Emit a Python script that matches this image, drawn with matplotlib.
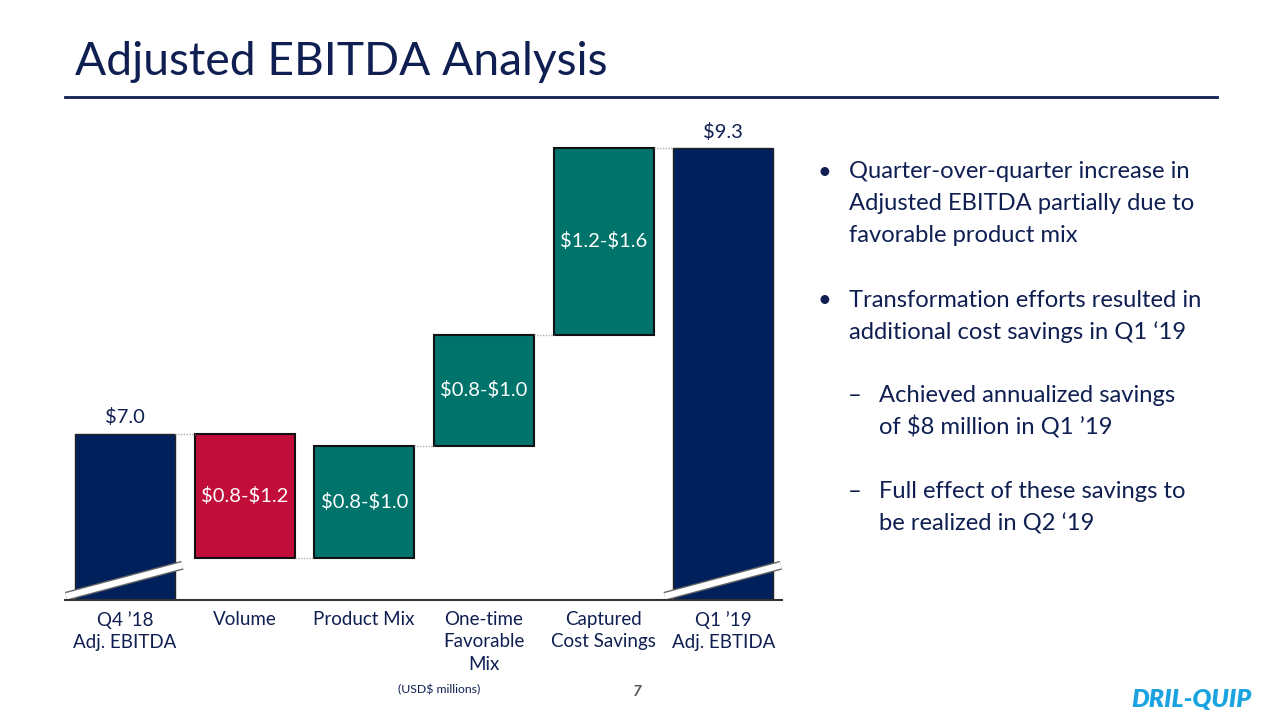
import matplotlib
matplotlib.use("Agg")
from matplotlib import pyplot as plt
import numpy as np

plt.rcParams["font.family"] = ["Lato", "DejaVu Sans"]

# waterfall data, USD$ millions (midpoints of the ranges shown)
categories = ["Q4 \u201918\nAdj. EBITDA", "Volume", "Product Mix",
              "One-time\nFavorable\nMix", "Captured\nCost Savings",
              "Q1 \u201919\nAdj. EBTIDA"]
start_value = 7.0
end_value = 9.3
changes = [-1.0, 0.9, 0.9, 1.5]
range_labels = [r"\$0.8-\$1.2", r"\$0.8-\$1.0", r"\$0.8-\$1.0", r"\$1.2-\$1.6"]
total_labels = [r"\$7.0", r"\$9.3"]

navy = "#00205B"
red = "#C00D3A"
teal = "#00746B"
text_navy = "#0F1F52"

fig = plt.figure(figsize=(12.8, 7.2), dpi=100)
ax = fig.add_axes([65 / 1280, 1 - 600 / 720, 717 / 1280, 490 / 720])

y0 = 5.66
x = np.arange(len(categories))
w = 0.836

levels = [start_value]
for c in changes:
    levels.append(levels[-1] + c)

# totals
ax.bar(x[0], start_value - y0, bottom=y0, width=w, color=navy, edgecolor="#222222", lw=1)
ax.bar(x[-1], end_value - y0, bottom=y0, width=w, color=navy, edgecolor="#222222", lw=1)

# changes
for i, c in enumerate(changes):
    lo = min(levels[i], levels[i + 1])
    col = red if c < 0 else teal
    ax.bar(x[i + 1], abs(c), bottom=lo, width=w, color=col, edgecolor="#111111", lw=1.5)
    ax.text(x[i + 1], lo + abs(c) / 2, range_labels[i], ha="center", va="center",
            color="white", fontsize=14.5)

# dotted connectors between neighbouring bars
for i in range(len(categories) - 1):
    yv = levels[i]
    ax.plot([x[i] + w / 2, x[i + 1] - w / 2], [yv, yv], color="#B0B0B0", lw=1,
            ls=(0, (1, 1)))

ax.text(x[0], start_value + 0.06, total_labels[0], ha="center", va="bottom",
        color=text_navy, fontsize=14.5)
ax.text(x[-1], end_value + 0.06, total_labels[1], ha="center", va="bottom",
        color=text_navy, fontsize=14.5)

# axis break marks
for xc in [x[0], x[-1]]:
    bx = [xc - 0.49, xc + 0.48]
    by = [y0 + 0.03, y0 + 0.28]
    ax.plot(bx, by, color="#666666", lw=6.5, solid_capstyle="butt", clip_on=False)
    ax.plot(bx, by, color="white", lw=4.5, solid_capstyle="butt", clip_on=False)

ax.set_xlim(-0.5, 5.49)
ax.set_ylim(y0, 9.61)
ax.set_xticks(x)
ax.set_xticklabels(categories, color=text_navy, fontsize=13.5, linespacing=1.38)
ax.tick_params(axis="x", length=0, pad=8)
ax.set_yticks([])
for s in ["top", "right", "left"]:
    ax.spines[s].set_visible(False)
ax.spines["bottom"].set_color("#333333")
ax.spines["bottom"].set_linewidth(1.5)

# title and rule
fig.text(75 / 1280, 1 - 62 / 720, "Adjusted EBITDA Analysis", fontsize=33.2,
         color=text_navy, va="center", ha="left")
fig.add_artist(plt.Line2D([65 / 1280, 1217 / 1280], [1 - 97 / 720] * 2,
                          color=text_navy, lw=2))

# bullet text
bullets = [
    (818, 849, [172, 204, 236], "\u2022",
     ["Quarter-over-quarter increase in", "Adjusted EBITDA partially due to",
      "favorable product mix"]),
    (818, 849, [300, 332], "\u2022",
     ["Transformation efforts resulted in", "additional cost savings in Q1 \u201819"]),
    (848, 879, [395, 427], "\u2013",
     ["Achieved annualized savings", "of \\$8 million in Q1 \u201919"]),
    (848, 879, [492, 524], "\u2013",
     ["Full effect of these savings to", "be realized in Q2 \u201819"]),
]
for bx, tx, ys, mark, lines in bullets:
    fig.text(bx / 1280, 1 - ys[0] / 720, mark, fontsize=17.1, color=text_navy, va="center")
    for yy, line in zip(ys, lines):
        fig.text(tx / 1280, 1 - yy / 720, line, fontsize=17.1, color=text_navy, va="center")

fig.text(439 / 1280, 1 - 690 / 720, r"(USD\$ millions)", fontsize=8.8, color=text_navy,
         ha="center", va="center")
fig.text(637 / 1280, 1 - 692 / 720, "7", fontsize=11, color="#555555",
         ha="center", va="center", style="italic", weight="bold")
fig.text(1191 / 1280, 1 - 700 / 720, "DRIL-QUIP", fontsize=18, color="#1BA3E0",
         ha="center", va="center", weight="heavy", style="italic")

plt.savefig("out.png", dpi=100)
